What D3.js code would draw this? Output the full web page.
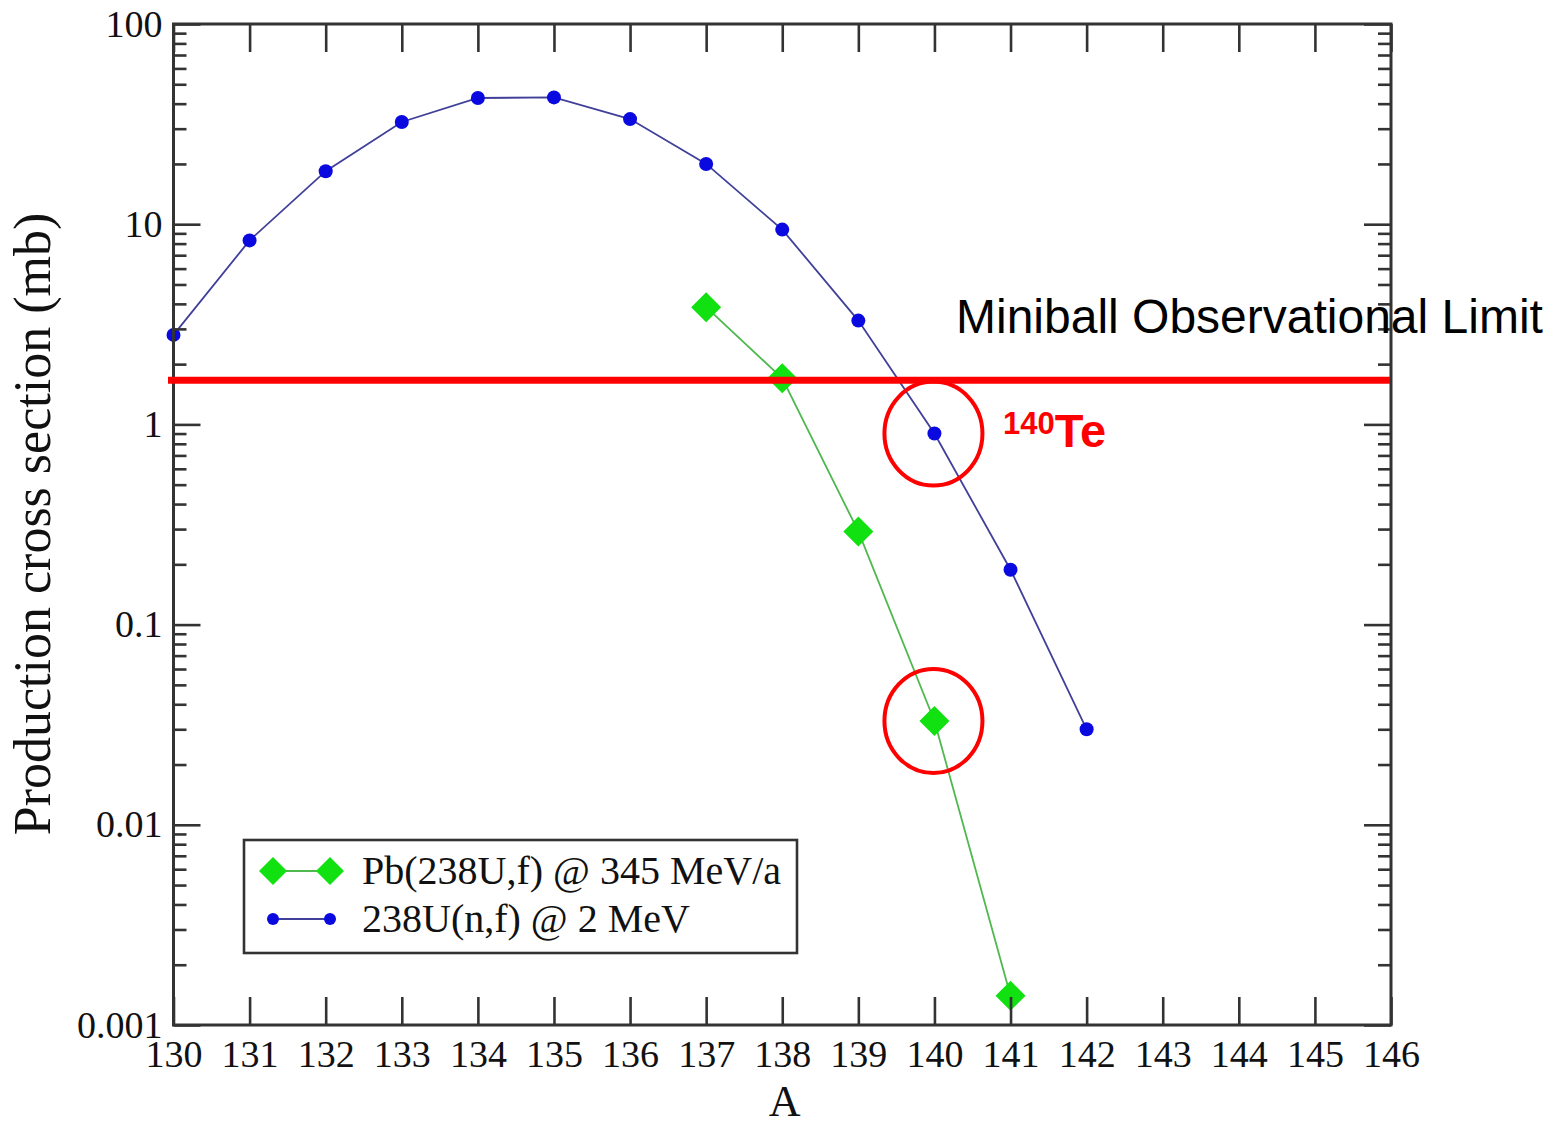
<!DOCTYPE html>
<html>
<head>
<meta charset="utf-8">
<script src="https://cdn.jsdelivr.net/npm/d3@7"></script>
<style>
  html, body { margin: 0; padding: 0; background: #fff; }
  svg { display: block; }
</style>
</head>
<body>
<svg id="chart" width="1552" height="1126"></svg>
<script>
// Mass number A for each series
const massNF = [130, 131, 132, 133, 134, 135, 136, 137, 138, 139, 140, 141, 142];
// 238U(n,f) @ 2 MeV production cross sections (mb)
const sigmaNF = [2.8, 8.3, 18.4, 32.4, 42.7, 43, 33.5, 20, 9.4, 3.3, 0.90, 0.188, 0.030];

const massPb = [137, 138, 139, 140, 141];
// Pb(238U,f) @ 345 MeV/a production cross sections (mb)
const sigmaPb = [3.85, 1.70, 0.292, 0.033, 0.0014];

const xTicks = d3.range(130, 147);
const yTicks = [0.001, 0.01, 0.1, 1, 10, 100];
const yTickLabels = ["0.001", "0.01", "0.1", "1", "10", "100"];

const seriesLabels = ["Pb(238U,f) @ 345 MeV/a", "238U(n,f) @ 2 MeV"];
const limitValue = 1.66;          // Miniball observational limit (mb)
const highlightA = 140;           // 140Te

const svg = d3.select("#chart");
const L = 173.5, R = 1391, T = 24, B = 1025;

const x = d3.scaleLinear().domain([130, 146]).range([L, R]);
const y = d3.scaleLog().domain([0.001, 100]).range([B, T]);

const axisColor = "#333";
const serif = "'Liberation Serif', 'Times New Roman', serif";
const sans = "'Liberation Sans', Arial, sans-serif";

// ---- data layer ----
const plot = svg.append("g");

const line = d3.line().x(d => x(d[0])).y(d => y(d[1]));
const nf = massNF.map((a, i) => [a, sigmaNF[i]]);
const pb = massPb.map((a, i) => [a, sigmaPb[i]]);

plot.append("path").datum(nf).attr("d", line)
  .attr("fill", "none").attr("stroke", "#40409a").attr("stroke-width", 1.8);
plot.append("path").datum(pb).attr("d", line)
  .attr("fill", "none").attr("stroke", "#4fb84f").attr("stroke-width", 1.8);

const diamond = s => `M0,${-s}L${s},0L0,${s}L${-s},0Z`;

plot.selectAll("path.pb").data(pb).enter().append("path")
  .attr("class", "pb")
  .attr("d", diamond(15))
  .attr("transform", d => `translate(${x(d[0])},${y(d[1])})`)
  .attr("fill", "#11e011");

plot.selectAll("circle.nf").data(nf).enter().append("circle")
  .attr("class", "nf")
  .attr("cx", d => x(d[0])).attr("cy", d => y(d[1])).attr("r", 7)
  .attr("fill", "#0a0ae0");

// ---- axes (ticks point inward on all four sides) ----
const axes = svg.append("g");
const minorTicks = [];
for (let e = -3; e < 2; e++) for (let k = 2; k <= 9; k++) minorTicks.push(k * Math.pow(10, e));

const bottomAxis = d3.axisBottom(x).tickValues(xTicks).tickSizeInner(-28).tickSizeOuter(0).tickPadding(15);
const topAxis = d3.axisTop(x).tickValues(xTicks).tickSizeInner(-28).tickSizeOuter(0).tickFormat("");
const leftAxis = d3.axisLeft(y).tickValues(yTicks).tickSizeInner(-27).tickSizeOuter(0)
  .tickPadding(11).tickFormat((d, i) => yTickLabels[i]);
const rightAxis = d3.axisRight(y).tickValues(yTicks).tickSizeInner(-27).tickSizeOuter(0).tickFormat("");
const leftMinor = d3.axisLeft(y).tickValues(minorTicks).tickSizeInner(-13).tickSizeOuter(0).tickFormat("");
const rightMinor = d3.axisRight(y).tickValues(minorTicks).tickSizeInner(-13).tickSizeOuter(0).tickFormat("");

function styleAxis(g) {
  g.select(".domain").remove();
  g.selectAll(".tick line").attr("stroke", axisColor).attr("stroke-width", 2.6);
  g.selectAll(".tick text").attr("fill", "#111").attr("font-family", serif).attr("font-size", 38);
}

axes.append("g").attr("transform", `translate(0,${B})`).call(bottomAxis).call(styleAxis);
axes.append("g").attr("transform", `translate(0,${T})`).call(topAxis).call(styleAxis);
axes.append("g").attr("transform", `translate(${L},0)`).call(leftAxis).call(styleAxis)
  .selectAll(".tick text").attr("text-anchor", "end");
axes.append("g").attr("transform", `translate(${R},0)`).call(rightAxis).call(styleAxis);
axes.append("g").attr("transform", `translate(${L},0)`).call(leftMinor).call(styleAxis);
axes.append("g").attr("transform", `translate(${R},0)`).call(rightMinor).call(styleAxis);

axes.append("rect").attr("x", L).attr("y", T).attr("width", R - L).attr("height", B - T)
  .attr("fill", "none").attr("stroke", axisColor).attr("stroke-width", 3);

// axis titles
svg.append("text").attr("x", x(138.03)).attr("y", 1116).attr("text-anchor", "middle")
  .attr("font-family", serif).attr("font-size", 44).attr("fill", "#111").text("A");
svg.append("text").attr("transform", "translate(50,524) rotate(-90)").attr("text-anchor", "middle")
  .attr("font-family", serif).attr("font-size", 52).attr("fill", "#111")
  .text("Production cross section (mb)");

// ---- legend ----
const lg = svg.append("g");
lg.append("rect").attr("x", 244).attr("y", 840).attr("width", 553).attr("height", 113)
  .attr("fill", "#fff").attr("stroke", axisColor).attr("stroke-width", 2.6);
const legendRows = [
  { y: 871, color: "#4fb84f", fill: "#11e011", shape: "diamond", label: seriesLabels[0] },
  { y: 919, color: "#40409a", fill: "#0a0ae0", shape: "circle", label: seriesLabels[1] }
];
legendRows.forEach(r => {
  lg.append("line").attr("x1", 273).attr("x2", 330).attr("y1", r.y).attr("y2", r.y)
    .attr("stroke", r.color).attr("stroke-width", 2);
  [273, 330].forEach(cx => {
    if (r.shape === "diamond") {
      lg.append("path").attr("d", diamond(14)).attr("transform", `translate(${cx},${r.y})`).attr("fill", r.fill);
    } else {
      lg.append("circle").attr("cx", cx).attr("cy", r.y).attr("r", 6).attr("fill", r.fill);
    }
  });
  lg.append("text").attr("x", 362).attr("y", r.y + 13).attr("font-family", serif)
    .attr("font-size", 40).attr("fill", "#111").text(r.label);
});

// ---- annotations ----
const ann = svg.append("g");
ann.append("line").attr("x1", 168).attr("x2", 1390)
  .attr("y1", y(limitValue)).attr("y2", y(limitValue))
  .attr("stroke", "#ff0000").attr("stroke-width", 7);

ann.append("text").attr("x", 956).attr("y", 333).attr("font-family", sans)
  .attr("font-size", 48).attr("fill", "#000").text("Miniball Observational Limit");

const teIdx = massNF.indexOf(highlightA);
const pbIdx = massPb.indexOf(highlightA);
[[highlightA, sigmaNF[teIdx]], [highlightA, sigmaPb[pbIdx]]].forEach(d => {
  ann.append("ellipse").attr("cx", x(d[0]) - 1).attr("cy", y(d[1]))
    .attr("rx", 49).attr("ry", 52)
    .attr("fill", "none").attr("stroke", "#ff0000").attr("stroke-width", 4);
});

const te = ann.append("text").attr("x", 1003).attr("y", 447)
  .attr("font-family", sans).attr("font-weight", "bold").attr("fill", "#ff0000");
te.append("tspan").attr("font-size", 31).attr("dy", -13).text("140");
te.append("tspan").attr("font-size", 47).attr("dy", 13).text("Te");
</script>
</body>
</html>
